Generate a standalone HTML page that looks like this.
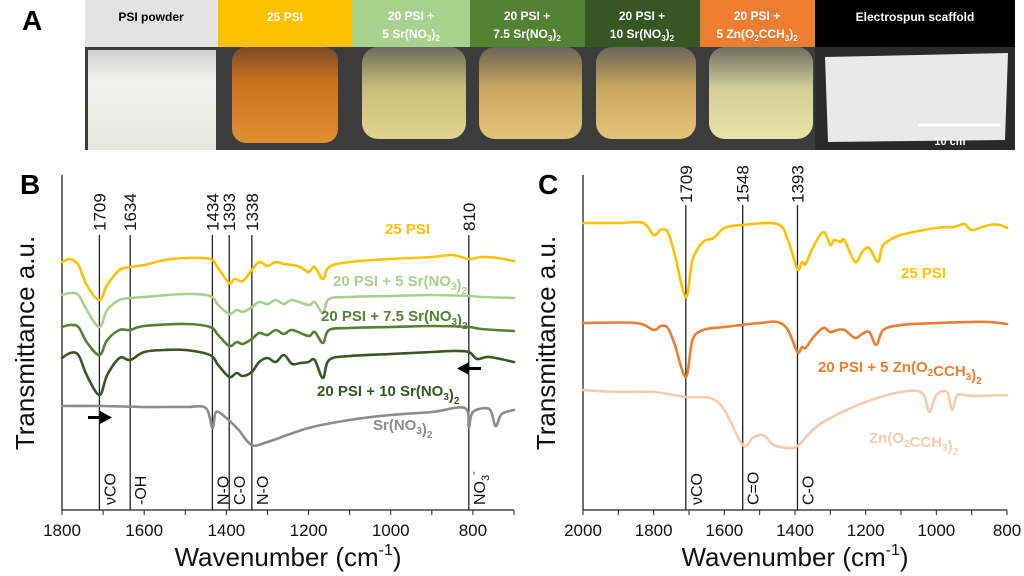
<!DOCTYPE html>
<html><head><meta charset="utf-8">
<style>
html,body{margin:0;padding:0;background:#fff;}
svg{display:block;font-family:"Liberation Sans",sans-serif;}
</style></head>
<body>
<svg id="fig" width="1024" height="576" viewBox="0 0 1024 576" xmlns="http://www.w3.org/2000/svg">
<defs>
<linearGradient id="gPow" x1="0" y1="0" x2="0" y2="1"><stop offset="0" stop-color="#cfcfcf"/><stop offset="0.3" stop-color="#f2f2f0"/><stop offset="1" stop-color="#e6e6e2"/></linearGradient>
<linearGradient id="gOr" x1="0" y1="0" x2="0" y2="1"><stop offset="0" stop-color="#7a4a2a"/><stop offset="0.35" stop-color="#c8701e"/><stop offset="1" stop-color="#e09030"/></linearGradient>
<linearGradient id="gV1" x1="0" y1="0" x2="0" y2="1"><stop offset="0" stop-color="#6b6b5a"/><stop offset="0.45" stop-color="#c9bf7a"/><stop offset="1" stop-color="#e0d48c"/></linearGradient>
<linearGradient id="gV2" x1="0" y1="0" x2="0" y2="1"><stop offset="0" stop-color="#6b6456"/><stop offset="0.45" stop-color="#c9a860"/><stop offset="1" stop-color="#e3c478"/></linearGradient>
<linearGradient id="gV4" x1="0" y1="0" x2="0" y2="1"><stop offset="0" stop-color="#6e6e60"/><stop offset="0.45" stop-color="#d2cf98"/><stop offset="1" stop-color="#e8e4a8"/></linearGradient>
</defs>

<text x="22" y="30" font-size="28" font-weight="bold">A</text>
<g>
  <rect x="85" y="47" width="930" height="103" fill="#3c3c3c"/>
  <rect x="88" y="50" width="128" height="100" fill="url(#gPow)"/>
  <rect x="232" y="47" width="106" height="96" rx="14" fill="url(#gOr)"/>
  <rect x="362" y="47" width="104" height="92" rx="16" fill="url(#gV1)"/>
  <rect x="479" y="47" width="103" height="92" rx="16" fill="url(#gV2)"/>
  <rect x="596" y="47" width="100" height="92" rx="16" fill="url(#gV2)"/>
  <rect x="709" y="47" width="104" height="92" rx="16" fill="url(#gV4)"/>
  <rect x="815" y="47" width="200" height="103" fill="#2a2a2a"/>
  <polygon points="825,57 1008,53 1005,140 828,142" fill="#e9e9ea"/>
  <line x1="918" y1="125" x2="1000" y2="125" stroke="#fff" stroke-width="3"/>
  <text x="950" y="145" font-size="11" font-weight="bold" fill="#fff" text-anchor="middle">10 cm</text>
</g>
<g font-size="12" font-weight="bold" text-anchor="middle">
  <rect x="85" y="0" width="133" height="47" fill="#e3e3e3"/>
  <text x="151" y="21" fill="#000">PSI powder</text>
  <rect x="218" y="0" width="134" height="47" fill="#ffc000"/>
  <text x="285" y="21" fill="#fff">25 PSI</text>
  <rect x="352" y="0" width="118" height="47" fill="#a9d18e"/>
  <text x="411" y="20" fill="#fff">20 PSI +</text><text x="411" y="38" fill="#fff">5 Sr(NO<tspan font-size="8" dy="3">3</tspan><tspan dy="-3">)</tspan><tspan font-size="8" dy="3">2</tspan></text>
  <rect x="470" y="0" width="115" height="47" fill="#548235"/>
  <text x="527" y="20" fill="#fff">20 PSI +</text><text x="527" y="38" fill="#fff">7.5 Sr(NO<tspan font-size="8" dy="3">3</tspan><tspan dy="-3">)</tspan><tspan font-size="8" dy="3">2</tspan></text>
  <rect x="585" y="0" width="115" height="47" fill="#375623"/>
  <text x="642" y="20" fill="#fff">20 PSI +</text><text x="642" y="38" fill="#fff">10 Sr(NO<tspan font-size="8" dy="3">3</tspan><tspan dy="-3">)</tspan><tspan font-size="8" dy="3">2</tspan></text>
  <rect x="700" y="0" width="115" height="47" fill="#ed7d31"/>
  <text x="757" y="20" fill="#fff">20 PSI +</text><text x="757" y="38" fill="#fff">5 Zn(O<tspan font-size="8" dy="3">2</tspan><tspan dy="-3">CCH</tspan><tspan font-size="8" dy="3">3</tspan><tspan dy="-3">)</tspan><tspan font-size="8" dy="3">2</tspan></text>
  <rect x="815" y="0" width="200" height="47" fill="#000"/>
  <text x="915" y="21" fill="#fff">Electrospun scaffold</text>
</g>

<text x="20" y="194" font-size="28" font-weight="bold">B</text>
<text x="538" y="194" font-size="28" font-weight="bold">C</text>

<g id="chartB"></g>
<g id="chartC"></g>
</svg>

<script>
// ---- Panel B data ----
const bTicks = [1800,1600,1400,1200,1000,800];
const bMarkers = [1709,1634,1434,1393,1338,810];
const bBottomLabels = ["νCO","-OH","N-O","C-O","N-O","NO3-"];
const bPsi25 = [[1800,248],[1780,251],[1760,245],[1740,225],[1709,210],[1690,225],[1660,240],[1634,243],[1600,245],[1550,250],[1500,252],[1440,251],[1420,242],[1393,227],[1380,231],[1360,229],[1338,240],[1320,248],[1300,244],[1280,248],[1260,246],[1240,245],[1220,243],[1200,238],[1185,243],[1165,231],[1150,243],[1100,248],[1000,251],[900,253],[850,255],[810,251],[780,253],[740,252],[700,249]];
const bSr5 = [[1800,215],[1780,217],[1760,215],[1740,200],[1709,183],[1690,200],[1660,210],[1634,212],[1600,213],[1500,216],[1440,214],[1420,205],[1393,196],[1375,200],[1360,198],[1338,203],[1320,208],[1300,206],[1280,210],[1260,206],[1240,210],[1200,205],[1185,208],[1165,197],[1150,211],[1100,213],[1000,214],[900,215],[810,214],[780,213],[700,212]];
const bSr75 = [[1800,183],[1780,185],[1760,183],[1740,168],[1709,155],[1690,170],[1660,180],[1634,180],[1600,184],[1500,186],[1440,183],[1420,175],[1393,164],[1375,168],[1360,166],[1338,171],[1320,177],[1300,175],[1280,180],[1260,176],[1240,180],[1200,174],[1185,178],[1165,167],[1150,180],[1100,182],[1000,183],[900,184],[810,183],[780,181],[700,179]];
const bSr10 = [[1800,152],[1780,157],[1760,155],[1740,135],[1709,115],[1690,135],[1660,152],[1634,150],[1600,158],[1550,160],[1500,160],[1440,155],[1420,145],[1393,133],[1375,137],[1360,134],[1338,138],[1320,148],[1300,152],[1280,148],[1260,155],[1240,146],[1220,147],[1200,148],[1185,150],[1165,132],[1150,150],[1100,154],[1000,156],[900,158],[850,159],[810,158],[790,151],[760,153],[700,148]];
const bSrNO3 = [[1800,104],[1700,104],[1600,103],[1500,103],[1450,102],[1434,82],[1425,98],[1400,92],[1370,80],[1338,65],[1300,68],[1200,82],[1100,90],[1000,95],[900,98],[820,102],[810,83],[800,98],[760,101],[745,84],[730,96],[700,100]];

// ---- Panel C data ----
const cTicks = [2000,1800,1600,1400,1200,1000,800];
const cMarkers = [1709,1548,1393];
const cBottomLabels = ["νCO","C=O","C-O"];
const cPsi25 = [[2000,287],[1900,287],[1830,287],[1800,275],[1780,280],[1760,278],[1740,255],[1709,213],[1690,250],[1660,268],[1630,272],[1600,282],[1550,285],[1450,286],[1420,270],[1393,241],[1380,248],[1370,246],[1350,262],[1320,278],[1300,265],[1290,270],[1270,268],[1260,270],[1230,248],[1210,258],[1190,262],[1165,248],[1150,265],[1100,275],[1000,282],[950,283],[920,286],[900,280],[850,285],[820,285],[800,282]];
const cZnPsi = [[2000,187],[1850,187],[1800,180],[1780,184],[1760,182],[1740,165],[1709,133],[1690,170],[1660,180],[1600,183],[1500,187],[1450,188],[1420,180],[1393,158],[1380,163],[1370,162],[1350,172],[1320,182],[1300,178],[1280,180],[1260,180],[1230,172],[1210,176],[1190,178],[1170,165],[1150,180],[1100,185],[1000,187],[900,188],[850,188],[800,186]];
const cZn = [[2000,120],[1900,118],[1800,118],[1709,113],[1640,112],[1600,100],[1548,65],[1520,72],[1490,75],[1460,65],[1420,62],[1393,64],[1350,80],[1300,92],[1200,108],[1100,118],[1040,117],[1020,98],[1000,115],[970,118],[955,100],[940,115],[900,114],[800,115]];

const NS = "http://www.w3.org/2000/svg";
function mk(parent, tag, attrs, text){
  const e = document.createElementNS(NS, tag);
  for (const k in attrs) e.setAttribute(k, attrs[k]);
  if (text !== undefined) e.textContent = text;
  parent.appendChild(e);
  return e;
}
function yScale(v){ return 510 - v; }

function buildAxis(g, x0, x1, d0, d1, ticks, name){
  const xs = w => x0 + (d0 - w) * (x1 - x0) / (d0 - d1);
  const axis = mk(g, "line", {x1:x0, y1:510, x2:x1, y2:510, stroke:"#222", "stroke-width":1.3});
  
  
  const ya = mk(g, "line", {x1:x0, y1:175, x2:x0, y2:510, stroke:"#222", "stroke-width":1.3});
  
  
  for (let w = d0; w >= d1; w -= 100){
    const t = mk(g, "line", {x1:xs(w), y1:510, x2:xs(w), y2:515, stroke:"#222", "stroke-width":1});
    
    
  }
  ticks.forEach(w => {
    const t = mk(g, "text", {x:xs(w), y:536, "font-size":17, "text-anchor":"middle", fill:"#111"}, String(w));
    
    
  });
  const xt = mk(g, "text", {x:(x0+x1)/2, y:566, "font-size":26, "text-anchor":"middle", fill:"#111"});
  
  
  xt.appendChild(document.createTextNode("Wavenumber (cm"));
  mk(xt, "tspan", {"font-size":16, dy:-11}, "-1");
  mk(xt, "tspan", {dy:11}, ")");
  const yt = mk(g, "text", {x:0, y:0, "font-size":26, "text-anchor":"middle", fill:"#111", transform:`translate(${x0-28},343) rotate(-90)`}, "Transmittance a.u.");
  
  
  return xs;
}
function drawSeries(g, xs, data, color, name){
  const pts = data.map(p => [xs(p[0]), yScale(p[1])]);
  let d = "M" + pts[0][0].toFixed(1) + "," + pts[0][1].toFixed(1);
  for (let i = 0; i < pts.length - 1; i++){
    const p0 = pts[Math.max(0,i-1)], p1 = pts[i], p2 = pts[i+1], p3 = pts[Math.min(pts.length-1,i+2)];
    const c1x = p1[0] + (p2[0]-p0[0])/6, c1y = p1[1] + (p2[1]-p0[1])/6;
    const c2x = p2[0] - (p3[0]-p1[0])/6, c2y = p2[1] - (p3[1]-p1[1])/6;
    d += ` C${c1x.toFixed(1)},${c1y.toFixed(1)} ${c2x.toFixed(1)},${c2y.toFixed(1)} ${p2[0].toFixed(1)},${p2[1].toFixed(1)}`;
  }
  const p = mk(g, "path", {d:d, fill:"none", stroke:color, "stroke-width":2.6, "stroke-linejoin":"round", "stroke-linecap":"round"});
  
  
}
function markers(g, xs, list, labels, topY, labelEnd){
  list.forEach((w,i) => {
    const x = xs(w);
    const l = mk(g, "line", {x1:x, y1:topY, x2:x, y2:510, stroke:"#222", "stroke-width":1.3});
    
    
    const t = mk(g, "text", {x:0, y:0, "font-size":17, fill:"#111", transform:`translate(${x+6},${labelEnd}) rotate(-90)`}, String(w));
    
    
    const lab = labels[i];
    const b = mk(g, "text", {x:0, y:0, "font-size":16, fill:"#111", transform:`translate(${x+16},505) rotate(-90)`});
    
    
    if (lab === "NO3-"){ b.textContent = "NO"; mk(b,"tspan",{"font-size":11, dy:4},"3"); mk(b,"tspan",{"font-size":11, dy:-12},"-"); }
    else b.textContent = lab;
  });
}
function label(g, x, y, color, parts, name){
  const t = mk(g, "text", {x:x, y:y, "font-size":15, "font-weight":"bold", fill:color});
  
  
  parts.forEach(p => {
    if (typeof p === "string") mk(t, "tspan", {}, p);
    else mk(t, "tspan", {"font-size":10, dy:p[1]}, p[0]);
  });
}

// Panel B
const gB = document.getElementById("chartB");
const xB = buildAxis(gB, 62, 514, 1800, 700, bTicks, "panel-b");
markers(gB, xB, bMarkers, bBottomLabels, 235, 231);
drawSeries(gB, xB, bSrNO3, "#8c8c8c", "series-srno3");
drawSeries(gB, xB, bSr10, "#375623", "series-sr10");
drawSeries(gB, xB, bSr75, "#548235", "series-sr75");
drawSeries(gB, xB, bSr5, "#a9d18e", "series-sr5");
drawSeries(gB, xB, bPsi25, "#ffc000", "series-psi25");
label(gB, 385, 234, "#ffc000", ["25 PSI"], "label-psi25");
label(gB, 333, 286, "#a9d18e", ["20 PSI + 5 Sr(NO",["3",4],["",-4],")",["2",4]], "label-sr5");
label(gB, 321, 321, "#548235", ["20 PSI + 7.5 Sr(NO",["3",4],["",-4],")",["2",4]], "label-sr75");
label(gB, 317, 396, "#375623", ["20 PSI + 10 Sr(NO",["3",4],["",-4],")",["2",4]], "label-sr10");
label(gB, 373, 430, "#8c8c8c", ["Sr(NO",["3",4],["",-4],")",["2",4]], "label-srno3");
const a1 = mk(gB, "path", {d:"M88,416 L100,416 L100,411 L112,417.5 L100,424 L100,419 L88,419 Z", fill:"#000"});


const a2 = mk(gB, "path", {d:"M481,367 L469,367 L469,362 L457,368.5 L469,375 L469,370 L481,370 Z", fill:"#000"});



// Panel C
const gC = document.getElementById("chartC");
const xC = buildAxis(gC, 583, 1007, 2000, 800, cTicks, "panel-c");
markers(gC, xC, cMarkers, cBottomLabels, 205, 203);
drawSeries(gC, xC, cZn, "#f8cbad", "series-zn-acetate");
drawSeries(gC, xC, cZnPsi, "#ed7d31", "series-psi-zn");
drawSeries(gC, xC, cPsi25, "#ffc000", "series-psi25-c");
label(gC, 901, 278, "#ffc000", ["25 PSI"], "label-psi25-c");
label(gC, 818, 372, "#ed7d31", ["20 PSI + 5 Zn(O",["2",4],["",-4],"CCH",["3",4],["",-4],")",["2",4]], "label-psi-zn");
label(gC, 869, 443, "#f8cbad", ["Zn(O",["2",4],["",-4],"CCH",["3",4],["",-4],")",["2",4]], "label-zn-acetate");
</script>
</body></html>
